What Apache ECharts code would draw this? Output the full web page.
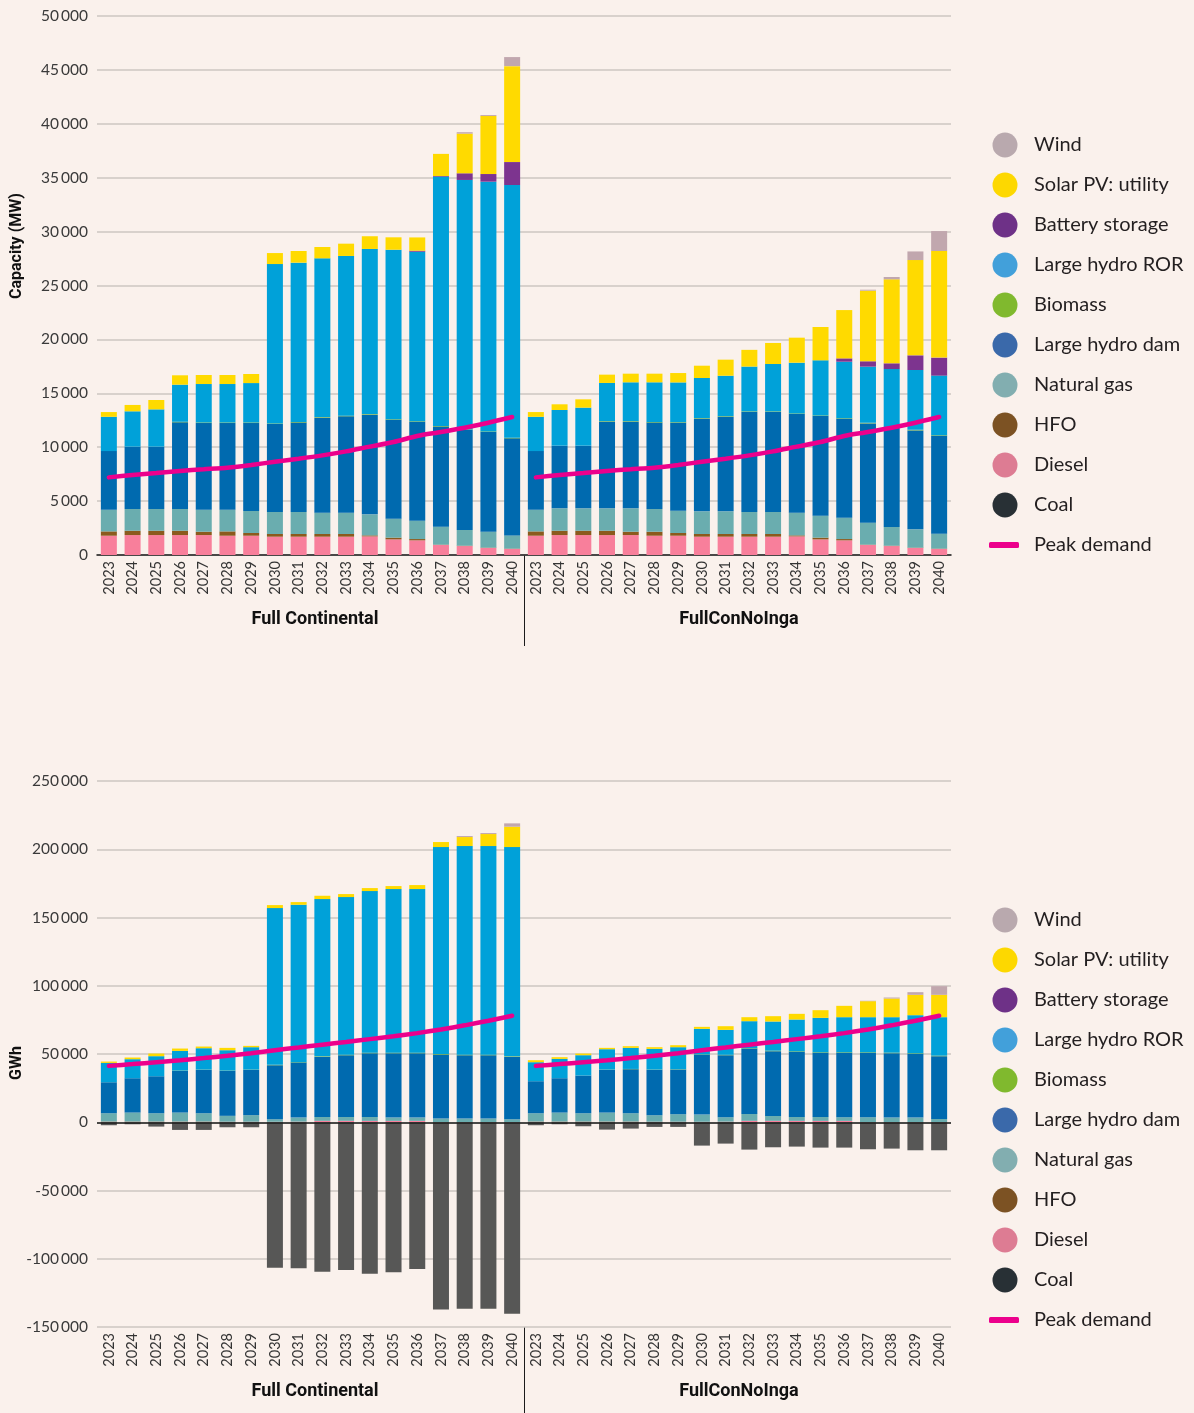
<!DOCTYPE html>
<html>
<head>
<meta charset="utf-8">
<script src="https://cdn.jsdelivr.net/npm/echarts@6.0.0/dist/echarts.min.js"></script>
<style>
  html, body { margin: 0; padding: 0; background: #faf1ec; }
  #chart { width: 1194px; height: 1413px; }
</style>
</head>
<body>
<div id="chart"></div>
<script>
// Years and scenarios
const years = ['2023','2024','2025','2026','2027','2028','2029','2030','2031','2032','2033','2034','2035','2036','2037','2038','2039','2040'];
const scenarios = ['Full Continental', 'FullConNoInga'];
const techNames = ['Coal','Diesel','HFO','Natural gas','Large hydro dam','Biomass','Large hydro ROR','Battery storage','Solar PV: utility','Wind'];

// Installed capacity (MW) — Full Continental
const capCoalFC    = [0,0,0,0,0,0,0,0,0,0,0,0,0,0,0,0,0,0];
const capDieselFC  = [1790,1850,1850,1850,1850,1790,1790,1700,1700,1700,1700,1730,1450,1360,930,830,650,560];
const capHfoFC     = [400,400,400,400,310,400,250,250,250,250,250,90,160,120,30,30,30,30];
const capGasFC     = [2010,2020,2020,2020,2040,2010,2040,2040,2040,1980,1980,1950,1760,1700,1670,1460,1480,1230];
const capDamFC     = [5440,5780,5780,8040,8040,8040,8160,8160,8290,8810,8940,9250,9180,9180,9280,9280,9250,9000];
const capBioFC     = [0,0,0,50,50,50,50,50,50,50,50,50,50,50,50,50,50,50];
const capRorFC     = [3180,3280,3460,3440,3570,3570,3660,14790,14790,14730,14820,15320,15720,15720,23140,23140,23170,23450];
const capBattFC    = [0,0,0,0,0,0,0,0,0,0,0,0,0,100,60,620,710,2130];
const capSolarFC   = [440,590,870,870,840,840,840,1020,1080,1050,1140,1180,1150,1230,2050,3680,5380,8900];
const capWindFC    = [0,0,0,0,0,0,0,0,0,0,0,0,0,0,0,130,90,840];

// Installed capacity (MW) — FullConNoInga
const capCoalNI    = [0,0,0,0,0,0,0,0,0,0,0,0,0,0,0,0,0,0];
const capDieselNI  = [1790,1850,1850,1850,1850,1790,1790,1700,1700,1700,1700,1730,1450,1360,930,830,650,560];
const capHfoNI     = [400,400,400,400,310,370,250,250,250,250,250,90,160,120,30,30,30,30];
const capGasNI     = [2010,2080,2080,2080,2170,2110,2070,2100,2100,2040,2040,2110,2040,1980,2040,1740,1700,1390];
const capDamNI     = [5440,5810,5810,8040,8040,8010,8160,8600,8780,9280,9280,9150,9250,9180,9210,9180,9180,9090];
const capBioNI     = [0,0,0,50,50,50,50,50,50,50,50,50,50,50,50,50,50,50];
const capRorNI     = [3180,3310,3530,3540,3600,3690,3690,3720,3750,4160,4400,4710,5110,5240,5210,5420,5550,5520];
const capBattNI    = [0,0,0,0,0,0,0,0,0,0,0,0,0,310,500,530,1360,1670];
const capSolarNI   = [440,530,770,770,800,800,870,1140,1490,1550,1950,2320,3090,4480,6550,7790,8840,9890];
const capWindNI    = [0,0,0,0,0,0,0,0,0,0,0,0,0,0,90,220,800,1850];

// Peak demand (MW)
const peakMW = [7200,7420,7600,7800,7950,8100,8350,8650,8930,9240,9610,10050,10480,11040,11410,11810,12270,12800];

// Generation (GWh) — Full Continental
const genCoalFC    = [0,0,0,0,0,0,0,0,0,0,0,0,0,0,0,0,0,0];
const genDieselFC  = [300,300,300,300,300,300,300,300,400,1000,1000,1000,1000,1000,200,200,200,200];
const genHfoFC     = [200,200,200,200,200,100,100,50,50,50,50,0,0,0,0,0,0,0];
const genGasFC     = [6100,6600,6100,6600,6100,4300,4800,1850,2950,2850,2850,2900,2400,2400,2500,2500,2500,2000];
const genDamFC     = [22700,25140,27100,30520,31750,32920,33150,39570,40320,43980,45200,46660,47160,47160,46890,46400,46400,45680];
const genBioFC     = [0,0,0,200,200,200,200,300,300,400,400,400,400,400,400,400,400,400];
const genRorFC     = [14180,13960,14700,14470,15700,14960,16430,114820,115310,115210,115460,118400,119870,119870,151610,152840,152840,153320];
const genBattFC    = [0,0,0,0,0,0,0,0,0,0,0,0,0,0,0,0,0,0];
const genSolarFC   = [980,1220,1950,1710,1220,1710,980,2200,1960,2440,2200,2200,2200,2930,3680,6600,8800,14920];
const genWindFC    = [0,0,0,0,0,0,0,0,0,0,0,0,0,0,0,740,730,2450];
const genNetFC     = [-2200,-1470,-3180,-5620,-5620,-3670,-3670,-106550,-107040,-109480,-108260,-110950,-109970,-107530,-137100,-136610,-136610,-140280];

// Generation (GWh) — FullConNoInga
const genCoalNI    = [0,0,0,0,0,0,0,0,0,0,0,0,0,0,0,0,0,0];
const genDieselNI  = [300,300,300,300,300,300,300,300,400,1000,1000,1000,1000,1000,200,200,200,200];
const genHfoNI     = [200,200,200,200,200,100,100,50,50,50,50,0,0,0,0,0,0,0];
const genGasNI     = [6100,6590,6100,6590,6100,4730,5470,5270,3220,5060,3590,2910,2910,2670,3470,3220,3220,2240];
const genDamNI     = [23460,25170,27610,31280,32260,33240,32740,43740,45450,47650,47410,47650,46920,47160,47160,47170,46680,45950];
const genBioNI     = [0,0,0,200,200,200,200,300,300,400,400,400,400,400,400,400,400,400];
const genRorNI     = [13930,14170,14910,14950,15440,15190,16180,18760,18270,19880,21350,23300,25260,25740,25740,25980,27940,28180];
const genBattNI    = [0,0,0,0,0,0,0,0,0,0,0,0,0,0,0,0,0,0];
const genSolarNI   = [1460,1220,1220,980,1220,1230,1460,1460,2680,2930,3910,4160,5610,8310,11730,13680,14900,16370];
const genWindNI    = [0,0,0,0,0,0,0,0,0,0,0,0,0,0,300,730,1960,6360];
const genNetNI     = [-2200,-1470,-2930,-5380,-4640,-3420,-3420,-17110,-15640,-20040,-18330,-17840,-18570,-18570,-19790,-19310,-20530,-20530];

// Peak demand (GWh)
const peakGWh = [41300,42600,44000,45400,47000,48700,50600,52800,54800,56800,58800,60900,63000,65300,68000,71000,74400,78000];

// Styling
const BG = '#faf1ec';
const barColors = {
  'Coal': '#263035',
  'Diesel': '#f87f9b',
  'HFO': '#8b5a1d',
  'Natural gas': '#6aadaf',
  'Large hydro dam': '#006aaf',
  'Biomass': '#6cae2b',
  'Large hydro ROR': '#00a1d9',
  'Battery storage': '#7d348f',
  'Solar PV: utility': '#ffda00',
  'Wind': '#c1a7ae'
};
const legendColors = {
  'Wind': '#b9a9ae',
  'Solar PV: utility': '#fdd800',
  'Battery storage': '#6e3187',
  'Large hydro ROR': '#42a0da',
  'Biomass': '#80b92e',
  'Large hydro dam': '#3a69aa',
  'Natural gas': '#82aeb0',
  'HFO': '#7c5223',
  'Diesel': '#dd7c93',
  'Coal': '#283035'
};
const PEAK = '#ec008c';
const NET = '#575756';
const FONT = 'Lato, "Open Sans", sans-serif';
const FONT_COND = '"Liberation Sans Narrow", "Roboto", sans-serif';

const capFC = [capCoalFC, capDieselFC, capHfoFC, capGasFC, capDamFC, capBioFC, capRorFC, capBattFC, capSolarFC, capWindFC];
const capNI = [capCoalNI, capDieselNI, capHfoNI, capGasNI, capDamNI, capBioNI, capRorNI, capBattNI, capSolarNI, capWindNI];
const genFC = [genCoalFC, genDieselFC, genHfoFC, genGasFC, genDamFC, genBioFC, genRorFC, genBattFC, genSolarFC, genWindFC];
const genNI = [genCoalNI, genDieselNI, genHfoNI, genGasNI, genDamNI, genBioNI, genRorNI, genBattNI, genSolarNI, genWindNI];

// Categories: 18 years per scenario, side by side
const cats = [];
scenarios.forEach((s, k) => years.forEach(y => cats.push(y + '|' + k)));

const fmt = v => {
  const a = Math.abs(v).toString().replace(/\B(?=(\d{3})+(?!\d))/g, '\u2009');
  return (v < 0 ? '-' : '') + a;
};

const nulls = years.map(() => null);

function barSeries(fcArr, niArr, axisIdx, stackName) {
  return techNames.map((name, i) => ({
    name: name,
    type: 'bar',
    stack: stackName,
    xAxisIndex: axisIdx,
    yAxisIndex: axisIdx,
    barWidth: 16,
    itemStyle: { color: barColors[name] },
    emphasis: { disabled: true },
    data: fcArr[i].concat(niArr[i])
  }));
}

function peakSeries(vals, axisIdx) {
  const common = {
    name: 'Peak demand',
    type: 'line',
    xAxisIndex: axisIdx,
    yAxisIndex: axisIdx,
    symbol: 'none',
    smooth: 0.25,
    z: 10,
    lineStyle: { color: PEAK, width: 4.5, cap: 'round' },
    itemStyle: { color: PEAK },
    emphasis: { disabled: true }
  };
  return [
    Object.assign({}, common, { data: vals.concat(nulls) }),
    Object.assign({}, common, { data: nulls.concat(vals) })
  ];
}

const series = []
  .concat(barSeries(capFC, capNI, 0, 'cap'))
  .concat(peakSeries(peakMW, 0))
  .concat(barSeries(genFC, genNI, 1, 'gen'))
  .concat([{
    name: 'Net flow',
    type: 'bar',
    stack: 'gen',
    xAxisIndex: 1,
    yAxisIndex: 1,
    barWidth: 16,
    itemStyle: { color: NET },
    emphasis: { disabled: true },
    data: genNetFC.concat(genNetNI),
    markLine: {
      silent: true,
      symbol: 'none',
      label: { show: false },
      lineStyle: { color: '#1b1b1b', width: 1.5, type: 'solid' },
      data: [{ yAxis: 0 }]
    }
  }])
  .concat(peakSeries(peakGWh, 1));

const legendOrder = ['Wind','Solar PV: utility','Battery storage','Large hydro ROR','Biomass','Large hydro dam','Natural gas','HFO','Diesel','Coal'];

function circleLegend(top) {
  return {
    orient: 'vertical',
    left: 987.5,
    top: top,
    itemWidth: 48,
    itemHeight: 25,
    itemGap: 15,
    icon: 'circle',
    selectedMode: false,
    textStyle: { fontFamily: FONT, fontSize: 20, color: '#231f20' },
    data: legendOrder.map(n => ({ name: n, itemStyle: { color: legendColors[n] } }))
  };
}
function peakLegend(top) {
  return {
    orient: 'vertical',
    left: 984,
    top: top,
    itemWidth: 30,
    itemHeight: 6,
    icon: 'roundRect',
    selectedMode: false,
    textStyle: { fontFamily: FONT, fontSize: 20, color: '#231f20', padding: [0, 0, 0, 10] },
    data: [{ name: 'Peak demand', itemStyle: { color: PEAK } }]
  };
}

function xAxisDef(gridIdx, lineShow) {
  return {
    type: 'category',
    gridIndex: gridIdx,
    data: cats,
    axisTick: { show: false },
    axisLine: { show: lineShow, onZero: false, lineStyle: { color: '#1b1b1b', width: 1.5 } },
    axisLabel: {
      interval: 0,
      rotate: 90,
      margin: 6,
      fontFamily: FONT,
      fontSize: 14.5,
      color: '#333',
      formatter: v => v.split('|')[0]
    },
    splitLine: { show: false }
  };
}
function yAxisDef(gridIdx, min, max, interval) {
  return {
    type: 'value',
    gridIndex: gridIdx,
    min: min,
    max: max,
    interval: interval,
    axisLine: { show: false },
    axisTick: { show: false },
    axisLabel: { margin: 9, fontFamily: FONT, fontSize: 15.5, color: '#3a3a3a', formatter: fmt },
    splitLine: { show: true, lineStyle: { color: '#cdc6c2', width: 1.5 } }
  };
}

const titleStyle = (txt, size) => ({ text: txt, fontFamily: FONT_COND, fontWeight: 'bold', fontSize: size, fill: '#111', align: 'center', verticalAlign: 'middle' });

const option = {
  backgroundColor: BG,
  animation: false,
  grid: [
    { left: 97, right: 243, top: 16, height: 539 },
    { left: 97, right: 243, top: 781, height: 546 }
  ],
  xAxis: [xAxisDef(0, true), xAxisDef(1, false)],
  yAxis: [yAxisDef(0, 0, 50000, 5000), yAxisDef(1, -150000, 250000, 50000)],
  legend: [circleLegend(127.5), peakLegend(530), circleLegend(902.5), peakLegend(1305)],
  series: series,
  graphic: [
    { type: 'text', x: 17, y: 246, rotation: Math.PI / 2, style: titleStyle('Capacity (MW)', 16) },
    { type: 'text', x: 17, y: 1063, rotation: Math.PI / 2, style: titleStyle('GWh', 16) },
    { type: 'text', x: 315, y: 619, style: titleStyle(scenarios[0], 18) },
    { type: 'text', x: 739, y: 619, style: titleStyle(scenarios[1], 18) },
    { type: 'text', x: 315, y: 1391, style: titleStyle(scenarios[0], 18) },
    { type: 'text', x: 739, y: 1391, style: titleStyle(scenarios[1], 18) },
    { type: 'line', shape: { x1: 524.5, y1: 555, x2: 524.5, y2: 646 }, style: { stroke: '#1b1b1b', lineWidth: 1 } },
    { type: 'line', shape: { x1: 524.5, y1: 1327, x2: 524.5, y2: 1413 }, style: { stroke: '#1b1b1b', lineWidth: 1 } }
  ]
};

const chart = echarts.init(document.getElementById('chart'), null, { renderer: 'canvas' });
chart.setOption(option);
</script>
</body>
</html>
